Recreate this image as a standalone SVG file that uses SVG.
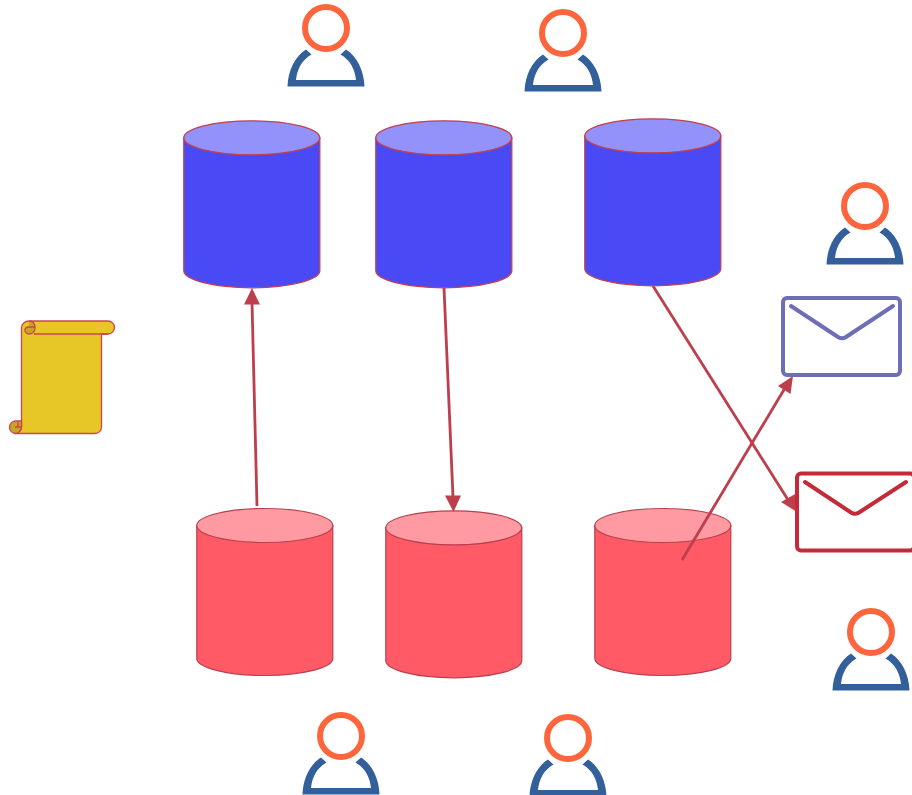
<svg xmlns="http://www.w3.org/2000/svg" width="912" height="795" viewBox="0 0 912 795">
<style>
.bb{fill:#4949f5;stroke:#c1414f;stroke-width:1.300}
.bt{fill:#9292fa;stroke:#c1414f;stroke-width:1.300}
.rb{fill:#ff5a66;stroke:#b8404e;stroke-width:1.200}
.rt{fill:#ff9aa2;stroke:#b8404e;stroke-width:1.200}
.head{fill:none;stroke:#ff653c;stroke-width:6}
.body{fill:#335f9b}
.conn{fill:none;stroke:#bd3f4c;stroke-width:2.800}
.arr{fill:#bd3f4c}
.sc{stroke:#cc4450;stroke-width:1.300}
</style>
<defs>
<g id="user">
<circle cx="37.500" cy="23" r="21" class="head"/>
<path d="M-1 81.500C-0.500 65 7 51 17.500 44.500L23 49.500C13 55 8.500 65 7.500 75H67.500C66.500 65 62 55 52 49.500L57.500 44.500C68 51 75.500 65 76 81.500Z" class="body"/>
</g>
<g id="db-blue">
<path d="M0 17V150C0 159 30 167 68 167S136 159 136 150V17Z" class="bb"/>
<ellipse cx="68" cy="17" rx="68" ry="17" class="bt"/>
</g>
<g id="db-red">
<path d="M0 17V150C0 159 30 167 68 167S136 159 136 150V17Z" class="rb"/>
<ellipse cx="68" cy="17" rx="68" ry="17" class="rt"/>
</g>
</defs>
<g id="scroll">
<path d="M29 321H108A6.500 6.500 0 0 1 108 334H101.500V427A6.500 6.500 0 0 1 95 433.500H15C18.500 433.500 21.500 430 21.500 427V328C21.500 324 25 321 29 321Z" fill="#e6c726" class="sc"/>
<path d="M34 334H108" fill="none" class="sc"/>
<path d="M29 321C33 321 35 324 35 328C35 332 32 334 29 334C26.500 334 25 332 25 330C25 328 27 327 29 327H35V328C35 332 32 334 29 334C26.500 334 25 332 25 330C25 328 27 327 29 327" fill="#c4a624" class="sc"/>
<path d="M21.500 421H15A6.300 6.300 0 0 0 15 433.500C18.500 433.500 21.500 430 21.500 427ZM15 427H21.500M18 427V422" fill="#c4a624" class="sc"/>
</g>
<g id="db-top-1"><use href="#db-blue" x="183.800" y="120.800"/></g>
<g id="db-top-2"><use href="#db-blue" x="375.800" y="120.800"/></g>
<g id="db-top-3"><use href="#db-blue" x="584.800" y="118.800"/></g>
<g id="db-bottom-1"><use href="#db-red" x="196.800" y="508.500"/></g>
<g id="db-bottom-2"><use href="#db-red" x="385.800" y="510.800"/></g>
<g id="db-bottom-3"><use href="#db-red" x="594.800" y="508.500"/></g>
<g id="user-1"><use href="#user" x="288.500" y="5"/></g>
<g id="user-2"><use href="#user" x="525.500" y="10"/></g>
<g id="user-3"><use href="#user" x="827.500" y="183"/></g>
<g id="user-4"><use href="#user" x="833.500" y="609"/></g>
<g id="user-5"><use href="#user" x="303.500" y="713"/></g>
<g id="user-6"><use href="#user" x="530.500" y="715"/></g>
<g id="connectors">
<path d="M257 506L252 302" class="conn"/>
<path d="M252 288L244 304.500H260Z" class="arr"/>
<path d="M444 288L453 497" class="conn"/>
<path d="M453.500 512L445 495.500H461Z" class="arr"/>
<path d="M653 286L790 503" class="conn"/>
<path d="M797 512L781 502L797 493Z" class="arr"/>
<path d="M682 560L785 388" class="conn"/>
<path d="M793 376L778 386L790.500 394Z" class="arr"/>
</g>
<g id="mail-1">
<rect x="783" y="298" width="117" height="77" rx="4" fill="#fff" stroke="#6e6eb8" stroke-width="4"/>
<path d="M791 306L838 337Q842 339.500 846 337L893 306" fill="none" stroke="#6e6eb8" stroke-width="4" stroke-linecap="round"/>
</g>
<g id="mail-2">
<rect x="797" y="473.500" width="117" height="77" rx="4" fill="#fff" stroke="#c42a38" stroke-width="4"/>
<path d="M805 482L851 512.500Q855 515 859 512.500L906 482" fill="none" stroke="#c42a38" stroke-width="4" stroke-linecap="round"/>
</g>
</svg>
